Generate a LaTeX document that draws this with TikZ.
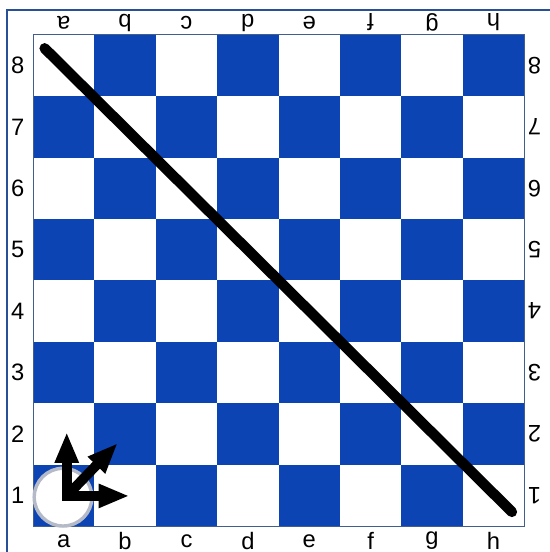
\documentclass[tikz,border=0pt]{standalone}
\usepackage{fontspec}
\setmainfont{Liberation Sans}
\usetikzlibrary{arrows.meta}
\definecolor{casa}{RGB}{12,68,180}
\definecolor{moldura}{RGB}{40,80,150}
\definecolor{anel}{RGB}{180,186,200}

\begin{document}
\begin{tikzpicture}[
    rotulo/.style={font=\fontsize{11}{13}\selectfont,inner sep=0pt},
    invertido/.style={rotulo,rotate=180},
    seta/.style={-{Triangle[length=0.5cm,width=0.36cm]},line width=0.16cm,line cap=rect,black},
    diagonal/.style={line width=0.17cm,line cap=round,black}]
  \useasboundingbox (-0.537,-0.423) rectangle (8.404,8.567);
  \draw[moldura,line width=0.8pt] (-0.423,-1) -- (-0.423,8.404) -- (9,8.404);
  \foreach \i in {0,...,7}
    \foreach \j in {0,...,7} {
      \pgfmathtruncatemacro{\paridade}{mod(\i+\j,2)}
      \ifnum\paridade=0 \fill[casa] (\i,\j) rectangle ++(1,1); \fi
    }
  \draw[moldura!70!gray,line width=0.4pt] (0,0) rectangle (8,8);
  \foreach \l [count=\n] in {a,b,c,d,e,f,g,h} {
    \node[rotulo] (baixo-\l) at (\n-0.5,-0.24) {\l};
    \node[invertido] (cima-\l) at (\n-0.5,8.2) {\l};
  }
  \foreach \n in {1,...,8} {
    \node[rotulo] (esq-\n) at (-0.25,\n-0.5) {\n};
    \node[invertido] (dir-\n) at (8.17,\n-0.5) {\n};
  }
  \coordinate (inicio) at (0.19,7.78);
  \coordinate (fim) at (7.80,0.23);
  \draw[diagonal] (inicio) -- (fim);
  \node[circle,draw=anel,fill=white,line width=1.6pt,minimum size=0.94cm,inner sep=0pt] (peca) at (0.49,0.47) {};
  \coordinate (o) at (0.55,0.49);
  \coordinate (cima) at (0.55,1.53);
  \coordinate (direita) at (1.57,0.49);
  \coordinate (diag) at (1.38,1.35);
  \draw[seta] (o) -- (cima);
  \draw[seta] (o) -- (direita);
  \draw[seta,line cap=butt] (o) -- (diag);
\end{tikzpicture}
\end{document}
